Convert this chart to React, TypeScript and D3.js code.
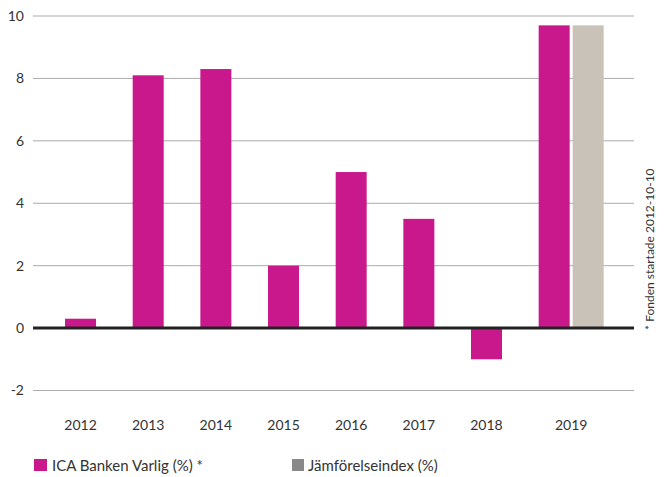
import React from "react";
import * as d3 from "d3";

const years = ["2012", "2013", "2014", "2015", "2016", "2017", "2018", "2019"];
const fundValues = [0.3, 8.1, 8.3, 2.0, 5.0, 3.5, -1.0, 9.7];
const indexYears = ["2019"];
const indexValues = [9.7];
const yTicks = [-2, 0, 2, 4, 6, 8, 10];
const legendLabels = ["ICA Banken Varlig (%) *", "Jämförelseindex (%)"];
const note = "* Fonden startade 2012-10-10";

const W = 664;
const H = 477;
const MAGENTA = "#C8188C";
const GRAYBAR = "#C9C2B9";
const FONT = "Lato, 'Open Sans', sans-serif";

export default function App() {
  const y = d3.scaleLinear().domain([-2, 10]).range([390.5, 16]);
  const x = d3.scaleBand<string>().domain(years).range([46.7, 588]).padding(0);
  const barW = 31;
  const center = (yr: string) => (x(yr) as number) + x.bandwidth() / 2;
  const gridX0 = 33;
  const gridX1 = 634;

  return (
    <svg width={W} height={H} style={{ position: "absolute", left: 0, top: 0, background: "#fff" }} fontFamily={FONT}>
      {yTicks.map((t) => (
        <g key={t}>
          {t !== 0 && (
            <line x1={gridX0} x2={gridX1} y1={y(t)} y2={y(t)} stroke="#ABABAB" strokeWidth={1} />
          )}
          <text x={24} y={y(t)} dy="0.35em" textAnchor="end" fontSize={14} fill="#333">
            {t}
          </text>
        </g>
      ))}
      {years.map((yr, i) => {
        const v = fundValues[i];
        const cx = center(yr);
        return (
          <rect
            key={yr}
            x={cx - barW / 2}
            y={y(Math.max(0, v))}
            width={barW}
            height={Math.abs(y(v) - y(0))}
            fill={MAGENTA}
          />
        );
      })}
      {indexYears.map((yr, i) => {
        const v = indexValues[i];
        const cx = center(yr) + 34;
        return (
          <rect
            key={"i" + yr}
            x={cx - barW / 2}
            y={y(Math.max(0, v))}
            width={barW}
            height={Math.abs(y(v) - y(0))}
            fill={GRAYBAR}
          />
        );
      })}
      <line x1={gridX0} x2={gridX1} y1={y(0)} y2={y(0)} stroke="#222" strokeWidth={3} />
      {years.map((yr) => {
        const cx = indexYears.includes(yr) ? center(yr) + 17 : center(yr);
        return (
          <text key={"l" + yr} x={cx} y={429.5} textAnchor="middle" fontSize={14} fill="#333">
            {yr}
          </text>
        );
      })}
      <rect x={34} y={459} width={13} height={12} fill={MAGENTA} />
      <text x={52} y={471} fontSize={15} fill="#333">
        {legendLabels[0]}
      </text>
      <rect x={292} y={459} width={12} height={12} fill="#888" />
      <text x={308} y={471} fontSize={15} fill="#333">
        {legendLabels[1]}
      </text>
      <text
        transform={`translate(654, 330) rotate(-90)`}
        fontSize={12}
        fill="#333"
        textAnchor="start"
      >
        {note}
      </text>
    </svg>
  );
}
